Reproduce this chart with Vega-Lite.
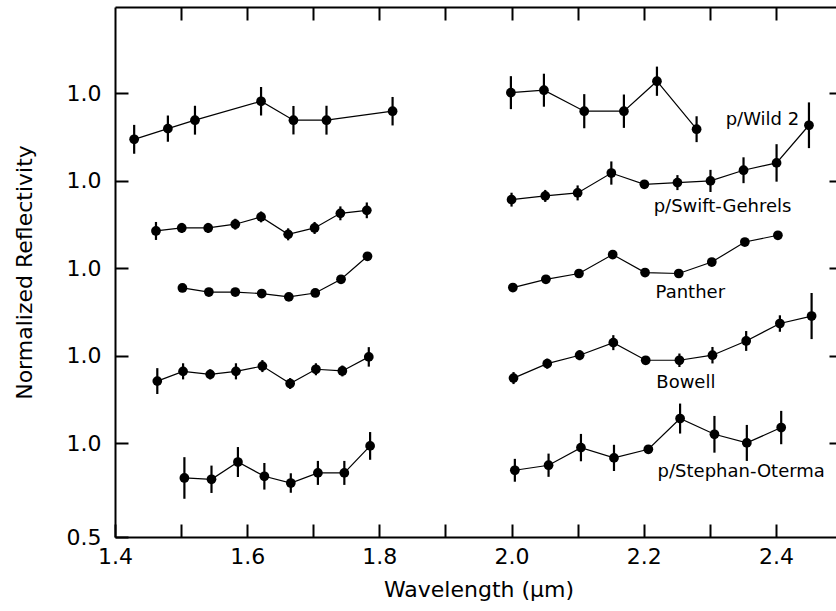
{
  "$schema": "https://vega.github.io/schema/vega-lite/v6.json",
  "width": 727,
  "height": 530,
  "autosize": {"type": "none"},
  "padding": {"left": 115, "top": 7, "right": -6, "bottom": 74},
  "background": "white",
  "config": {
    "view": {"stroke": null},
    "font": "DejaVu Sans",
    "axis": {
      "grid": false,
      "domainColor": "black",
      "domainWidth": 2,
      "tickColor": "black",
      "tickWidth": 2,
      "labelColor": "black",
      "titleColor": "black",
      "labelFont": "DejaVu Sans",
      "titleFont": "DejaVu Sans",
      "titleFontWeight": "normal",
      "labelFlush": false,
      "labelOverlap": false,
      "labelBound": false
    }
  },
  "datasets": {
    "spectra": [
      {"comet": "p/Wild 2", "band": "H", "wl": 1.429, "r": 2.622, "err": 0.077},
      {"comet": "p/Wild 2", "band": "H", "wl": 1.480, "r": 2.679, "err": 0.070},
      {"comet": "p/Wild 2", "band": "H", "wl": 1.521, "r": 2.724, "err": 0.077},
      {"comet": "p/Wild 2", "band": "H", "wl": 1.621, "r": 2.825, "err": 0.076},
      {"comet": "p/Wild 2", "band": "H", "wl": 1.670, "r": 2.724, "err": 0.076},
      {"comet": "p/Wild 2", "band": "H", "wl": 1.720, "r": 2.724, "err": 0.077},
      {"comet": "p/Wild 2", "band": "H", "wl": 1.820, "r": 2.772, "err": 0.076},
      {"comet": "p/Wild 2", "band": "K", "wl": 1.999, "r": 2.871, "err": 0.088},
      {"comet": "p/Wild 2", "band": "K", "wl": 2.049, "r": 2.884, "err": 0.088},
      {"comet": "p/Wild 2", "band": "K", "wl": 2.110, "r": 2.772, "err": 0.091},
      {"comet": "p/Wild 2", "band": "K", "wl": 2.170, "r": 2.772, "err": 0.089},
      {"comet": "p/Wild 2", "band": "K", "wl": 2.220, "r": 2.932, "err": 0.078},
      {"comet": "p/Wild 2", "band": "K", "wl": 2.280, "r": 2.676, "err": 0.069},

      {"comet": "p/Swift-Gehrels", "band": "H", "wl": 1.462, "r": 2.133, "err": 0.048},
      {"comet": "p/Swift-Gehrels", "band": "H", "wl": 1.501, "r": 2.149, "err": 0.027},
      {"comet": "p/Swift-Gehrels", "band": "H", "wl": 1.541, "r": 2.149, "err": 0.027},
      {"comet": "p/Swift-Gehrels", "band": "H", "wl": 1.582, "r": 2.169, "err": 0.029},
      {"comet": "p/Swift-Gehrels", "band": "H", "wl": 1.621, "r": 2.208, "err": 0.029},
      {"comet": "p/Swift-Gehrels", "band": "H", "wl": 1.662, "r": 2.115, "err": 0.032},
      {"comet": "p/Swift-Gehrels", "band": "H", "wl": 1.702, "r": 2.149, "err": 0.032},
      {"comet": "p/Swift-Gehrels", "band": "H", "wl": 1.741, "r": 2.227, "err": 0.037},
      {"comet": "p/Swift-Gehrels", "band": "H", "wl": 1.781, "r": 2.243, "err": 0.042},
      {"comet": "p/Swift-Gehrels", "band": "K", "wl": 2.000, "r": 2.300, "err": 0.037},
      {"comet": "p/Swift-Gehrels", "band": "K", "wl": 2.051, "r": 2.320, "err": 0.032},
      {"comet": "p/Swift-Gehrels", "band": "K", "wl": 2.100, "r": 2.336, "err": 0.040},
      {"comet": "p/Swift-Gehrels", "band": "K", "wl": 2.151, "r": 2.442, "err": 0.062},
      {"comet": "p/Swift-Gehrels", "band": "K", "wl": 2.201, "r": 2.382, "err": 0.016},
      {"comet": "p/Swift-Gehrels", "band": "K", "wl": 2.251, "r": 2.391, "err": 0.040},
      {"comet": "p/Swift-Gehrels", "band": "K", "wl": 2.301, "r": 2.400, "err": 0.059},
      {"comet": "p/Swift-Gehrels", "band": "K", "wl": 2.351, "r": 2.457, "err": 0.069},
      {"comet": "p/Swift-Gehrels", "band": "K", "wl": 2.401, "r": 2.496, "err": 0.100},
      {"comet": "p/Swift-Gehrels", "band": "K", "wl": 2.450, "r": 2.697, "err": 0.122},

      {"comet": "Panther", "band": "H", "wl": 1.502, "r": 1.829, "err": 0},
      {"comet": "Panther", "band": "H", "wl": 1.542, "r": 1.807, "err": 0},
      {"comet": "Panther", "band": "H", "wl": 1.582, "r": 1.807, "err": 0},
      {"comet": "Panther", "band": "H", "wl": 1.622, "r": 1.799, "err": 0},
      {"comet": "Panther", "band": "H", "wl": 1.663, "r": 1.781, "err": 0},
      {"comet": "Panther", "band": "H", "wl": 1.703, "r": 1.802, "err": 0},
      {"comet": "Panther", "band": "H", "wl": 1.742, "r": 1.875, "err": 0},
      {"comet": "Panther", "band": "H", "wl": 1.782, "r": 1.998, "err": 0},
      {"comet": "Panther", "band": "K", "wl": 2.002, "r": 1.831, "err": 0},
      {"comet": "Panther", "band": "K", "wl": 2.052, "r": 1.875, "err": 0},
      {"comet": "Panther", "band": "K", "wl": 2.102, "r": 1.906, "err": 0},
      {"comet": "Panther", "band": "K", "wl": 2.153, "r": 2.007, "err": 0},
      {"comet": "Panther", "band": "K", "wl": 2.202, "r": 1.911, "err": 0},
      {"comet": "Panther", "band": "K", "wl": 2.253, "r": 1.906, "err": 0},
      {"comet": "Panther", "band": "K", "wl": 2.303, "r": 1.967, "err": 0},
      {"comet": "Panther", "band": "K", "wl": 2.353, "r": 2.074, "err": 0},
      {"comet": "Panther", "band": "K", "wl": 2.403, "r": 2.110, "err": 0},

      {"comet": "Bowell", "band": "H", "wl": 1.464, "r": 1.332, "err": 0.069},
      {"comet": "Bowell", "band": "H", "wl": 1.503, "r": 1.384, "err": 0.043},
      {"comet": "Bowell", "band": "H", "wl": 1.544, "r": 1.368, "err": 0.027},
      {"comet": "Bowell", "band": "H", "wl": 1.583, "r": 1.384, "err": 0.043},
      {"comet": "Bowell", "band": "H", "wl": 1.623, "r": 1.412, "err": 0.032},
      {"comet": "Bowell", "band": "H", "wl": 1.665, "r": 1.319, "err": 0.029},
      {"comet": "Bowell", "band": "H", "wl": 1.704, "r": 1.395, "err": 0.032},
      {"comet": "Bowell", "band": "H", "wl": 1.744, "r": 1.386, "err": 0.029},
      {"comet": "Bowell", "band": "H", "wl": 1.784, "r": 1.461, "err": 0.052},
      {"comet": "Bowell", "band": "K", "wl": 2.003, "r": 1.348, "err": 0.032},
      {"comet": "Bowell", "band": "K", "wl": 2.054, "r": 1.425, "err": 0.027},
      {"comet": "Bowell", "band": "K", "wl": 2.103, "r": 1.470, "err": 0.027},
      {"comet": "Bowell", "band": "K", "wl": 2.154, "r": 1.537, "err": 0.040},
      {"comet": "Bowell", "band": "K", "wl": 2.203, "r": 1.443, "err": 0.016},
      {"comet": "Bowell", "band": "K", "wl": 2.254, "r": 1.443, "err": 0.036},
      {"comet": "Bowell", "band": "K", "wl": 2.304, "r": 1.470, "err": 0.044},
      {"comet": "Bowell", "band": "K", "wl": 2.355, "r": 1.546, "err": 0.053},
      {"comet": "Bowell", "band": "K", "wl": 2.406, "r": 1.639, "err": 0.044},
      {"comet": "Bowell", "band": "K", "wl": 2.454, "r": 1.679, "err": 0.123},

      {"comet": "p/Stephan-Oterma", "band": "H", "wl": 1.505, "r": 0.815, "err": 0.111},
      {"comet": "p/Stephan-Oterma", "band": "H", "wl": 1.546, "r": 0.808, "err": 0.073},
      {"comet": "p/Stephan-Oterma", "band": "H", "wl": 1.586, "r": 0.900, "err": 0.080},
      {"comet": "p/Stephan-Oterma", "band": "H", "wl": 1.626, "r": 0.824, "err": 0.071},
      {"comet": "p/Stephan-Oterma", "band": "H", "wl": 1.666, "r": 0.788, "err": 0.052},
      {"comet": "p/Stephan-Oterma", "band": "H", "wl": 1.707, "r": 0.842, "err": 0.064},
      {"comet": "p/Stephan-Oterma", "band": "H", "wl": 1.747, "r": 0.842, "err": 0.064},
      {"comet": "p/Stephan-Oterma", "band": "H", "wl": 1.786, "r": 0.986, "err": 0.074},
      {"comet": "p/Stephan-Oterma", "band": "K", "wl": 2.005, "r": 0.856, "err": 0.061},
      {"comet": "p/Stephan-Oterma", "band": "K", "wl": 2.056, "r": 0.883, "err": 0.062},
      {"comet": "p/Stephan-Oterma", "band": "K", "wl": 2.105, "r": 0.977, "err": 0.073},
      {"comet": "p/Stephan-Oterma", "band": "K", "wl": 2.155, "r": 0.922, "err": 0.070},
      {"comet": "p/Stephan-Oterma", "band": "K", "wl": 2.207, "r": 0.968, "err": 0.016},
      {"comet": "p/Stephan-Oterma", "band": "K", "wl": 2.255, "r": 1.132, "err": 0.080},
      {"comet": "p/Stephan-Oterma", "band": "K", "wl": 2.307, "r": 1.048, "err": 0.098},
      {"comet": "p/Stephan-Oterma", "band": "K", "wl": 2.356, "r": 1.002, "err": 0.096},
      {"comet": "p/Stephan-Oterma", "band": "K", "wl": 2.408, "r": 1.084, "err": 0.089}
    ],
    "labels": [
      {"label": "p/Wild 2", "wl": 2.324, "r": 2.724},
      {"label": "p/Swift-Gehrels", "wl": 2.215, "r": 2.261},
      {"label": "Panther", "wl": 2.218, "r": 1.800},
      {"label": "Bowell", "wl": 2.219, "r": 1.320},
      {"label": "p/Stephan-Oterma", "wl": 2.221, "r": 0.845}
    ]
  },
  "resolve": {"axis": {"x": "independent", "y": "independent"}},
  "layer": [
    {
      "data": {"name": "spectra"},
      "mark": {"type": "line", "color": "black", "strokeWidth": 1.2},
      "encoding": {
        "x": {
          "field": "wl", "type": "quantitative",
          "scale": {"domain": [1.4, 2.5], "nice": false, "zero": false},
          "axis": {
            "orient": "bottom",
            "values": [1.4, 1.5, 1.6, 1.7, 1.8, 1.9, 2.0, 2.1, 2.2, 2.3, 2.4],
            "labelExpr": "round(datum.value * 10) % 2 == 0 ? format(datum.value, '.1f') : ''",
            "tickSize": -13,
            "labelPadding": 22,
            "labelFontSize": 22,
            "title": "Wavelength (μm)",
            "titleFontSize": 22,
            "titlePadding": 12
          }
        },
        "y": {
          "field": "r", "type": "quantitative",
          "scale": {"domain": [0.5, 3.328], "nice": false, "zero": false},
          "axis": {
            "orient": "left",
            "values": [0.5, 1.0, 1.467, 1.934, 2.401, 2.868],
            "labelExpr": "datum.value < 0.75 ? '0.5' : '1.0'",
            "tickSize": -13,
            "labelPadding": 27,
            "labelFontSize": 22,
            "title": "Normalized Reflectivity",
            "titleFontSize": 22,
            "titlePadding": 30
          }
        },
        "detail": [{"field": "comet"}, {"field": "band"}]
      }
    },
    {
      "data": {"name": "spectra"},
      "mark": {"type": "errorbar", "thickness": 2.2, "color": "black"},
      "encoding": {
        "x": {"field": "wl", "type": "quantitative", "scale": {"domain": [1.4, 2.5], "nice": false, "zero": false}, "axis": null},
        "y": {"field": "r", "type": "quantitative", "scale": {"domain": [0.5, 3.328], "nice": false, "zero": false}, "axis": null},
        "yError": {"field": "err"}
      }
    },
    {
      "data": {"name": "spectra"},
      "mark": {"type": "point", "filled": true, "size": 95, "color": "black", "opacity": 1},
      "encoding": {
        "x": {
          "field": "wl", "type": "quantitative",
          "scale": {"domain": [1.4, 2.5], "nice": false, "zero": false},
          "axis": {
            "orient": "top",
            "values": [1.5, 1.6, 1.7, 1.8, 1.9, 2.0, 2.1, 2.2, 2.3, 2.4],
            "labels": false,
            "tickSize": -13,
            "title": null
          }
        },
        "y": {
          "field": "r", "type": "quantitative",
          "scale": {"domain": [0.5, 3.328], "nice": false, "zero": false},
          "axis": {
            "orient": "right",
            "values": [1.0, 1.467, 1.934, 2.401, 2.868],
            "labels": false,
            "tickSize": -13,
            "title": null
          }
        }
      }
    },
    {
      "data": {"name": "labels"},
      "mark": {"type": "text", "align": "left", "baseline": "middle", "fontSize": 18, "font": "DejaVu Sans", "color": "black"},
      "encoding": {
        "x": {"field": "wl", "type": "quantitative", "scale": {"domain": [1.4, 2.5], "nice": false, "zero": false}, "axis": null},
        "y": {"field": "r", "type": "quantitative", "scale": {"domain": [0.5, 3.328], "nice": false, "zero": false}, "axis": null},
        "text": {"field": "label"}
      }
    }
  ]
}
